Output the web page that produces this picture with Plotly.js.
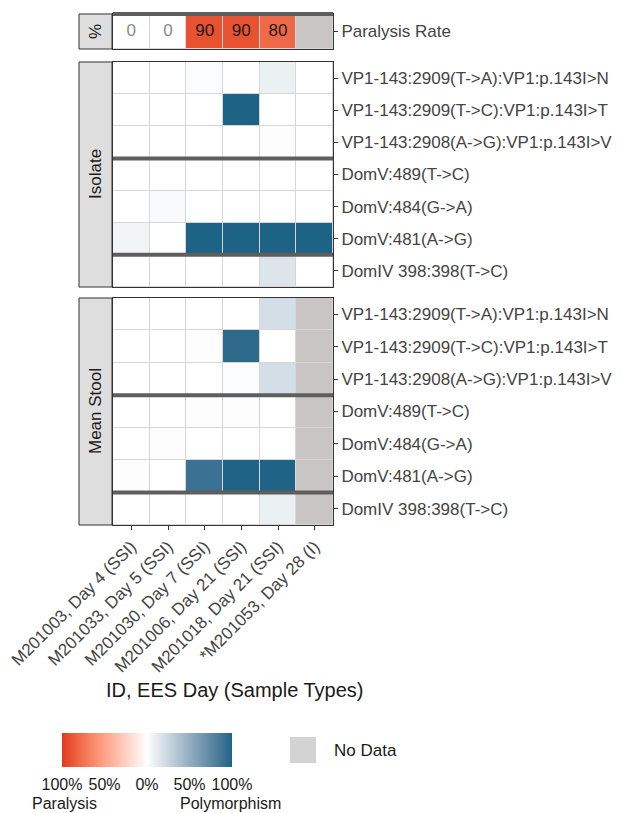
<!DOCTYPE html>
<html>
<head>
<meta charset="utf-8">
<script src="https://cdn.plot.ly/plotly-3.0.1.min.js"></script>
<style>html,body{margin:0;padding:0;background:#fff;}#chart{width:621px;height:813px;}</style>
</head>
<body>
<div id="chart"></div>
<script>
// ---------------- DATA ----------------
var samples = ['M201003, Day 4 (SSI)', 'M201033, Day 5 (SSI)', 'M201030, Day 7 (SSI)',
               'M201006, Day 21 (SSI)', 'M201018, Day 21 (SSI)', '*M201053, Day 28 (I)'];
var variants = ['VP1-143:2909(T->A):VP1:p.143I>N', 'VP1-143:2909(T->C):VP1:p.143I>T',
                'VP1-143:2908(A->G):VP1:p.143I>V', 'DomV:489(T->C)', 'DomV:484(G->A)',
                'DomV:481(A->G)', 'DomIV 398:398(T->C)'];
var variantGroups = ['VP1', 'VP1', 'VP1', 'DomV', 'DomV', 'DomV', 'DomIV'];
var paralysisLabel = ['Paralysis Rate'];
var paralysisRate = [0, 0, 90, 90, 80, null];
var isolateFreq = [
  [0, 0, 0.02, 0, 0.09, 0],
  [0, 0, 0, 1.0, 0, 0],
  [0, 0, 0, 0, 0.01, 0],
  [0, 0, 0, 0, 0, 0],
  [0, 0.03, 0, 0, 0, 0],
  [0.06, 0, 1.0, 1.0, 1.0, 1.0],
  [0, 0, 0, 0, 0.16, 0]
];
var stoolFreq = [
  [0, 0, 0, 0, 0.2, null],
  [0, 0, 0.01, 0.95, 0, null],
  [0, 0, 0, 0.02, 0.2, null],
  [0, 0, 0.01, 0.01, 0, null],
  [0, 0.01, 0, 0, 0, null],
  [0.01, 0, 0.9, 0.99, 0.99, null],
  [0, 0, 0, 0, 0.09, null]
];
var panelNames = ['%', 'Isolate', 'Mean Stool'];
var scaleTickVals = [-1, -0.5, 0, 0.5, 1];
var scaleTickText = ['100%', '50%', '0%', '50%', '100%'];
var scaleEnds = ['Paralysis', 'Polymorphism'];
var naLabel = 'No Data';
var xTitle = 'ID, EES Day (Sample Types)';

// ---------------- COLOURS (Lab interpolation like ggplot gradient2) ----------------
var LOW = '#E0391A', MID = '#FFFFFF', HIGH = '#1C6386', NA_COL = '#C9C5C5';
function hex2rgb(h){h=h.replace('#','');return [parseInt(h.substr(0,2),16),parseInt(h.substr(2,2),16),parseInt(h.substr(4,2),16)];}
function lin(c){c/=255;return c<=0.04045?c/12.92:Math.pow((c+0.055)/1.055,2.4);}
function delin(c){c=c<=0.0031308?12.92*c:1.055*Math.pow(c,1/2.4)-0.055;return Math.max(0,Math.min(255,Math.round(c*255)));}
var Xn=0.95047,Yn=1,Zn=1.08883;
function f(t){return t>0.008856?Math.cbrt(t):7.787*t+16/116;}
function finv(t){return t*t*t>0.008856?t*t*t:(t-16/116)/7.787;}
function rgb2lab(rgb){var r=lin(rgb[0]),g=lin(rgb[1]),b=lin(rgb[2]);
  var X=r*0.4124+g*0.3576+b*0.1805,Y=r*0.2126+g*0.7152+b*0.0722,Z=r*0.0193+g*0.1192+b*0.9505;
  var fx=f(X/Xn),fy=f(Y/Yn),fz=f(Z/Zn);return [116*fy-16,500*(fx-fy),200*(fy-fz)];}
function lab2rgb(lab){var fy=(lab[0]+16)/116,fx=fy+lab[1]/500,fz=fy-lab[2]/200;
  var X=Xn*finv(fx),Y=Yn*finv(fy),Z=Zn*finv(fz);
  var r=X*3.2406-Y*1.5372-Z*0.4986,g=-X*0.9689+Y*1.8758+Z*0.0415,b=X*0.0557-Y*0.2040+Z*1.0570;
  return 'rgb('+delin(r)+','+delin(g)+','+delin(b)+')';}
function mix(a,b,t){var A=rgb2lab(hex2rgb(a)),B=rgb2lab(hex2rgb(b));return lab2rgb([A[0]+(B[0]-A[0])*t,A[1]+(B[1]-A[1])*t,A[2]+(B[2]-A[2])*t]);}
var colorscale=[];
for(var i=0;i<=40;i++){var v=i/40;var c=v<0.5?mix(LOW,MID,v/0.5):mix(MID,HIGH,(v-0.5)/0.5);colorscale.push([v,c]);}

// ---------------- GEOMETRY ----------------
var W=621,H=813;
function px(x){return x/W;}
function py(y){return 1-y/H;}
var plotX=[113,333];
var panels=[[14,49],[62,287],[298,525]];
var strip=[79,112];

function naMask(z){return z.map(function(r){return r.map(function(v){return v===null?1:null;});});}
function paraZ(){return [paralysisRate.map(function(v){return v===null?null:-v/100;})];}

var FF='Liberation Sans, Arial, sans-serif';
var common={type:'heatmap',x:samples,zmin:-1,zmax:1,colorscale:colorscale,xgap:1,ygap:1,hoverinfo:'skip'};
var traces=[
  Object.assign({},common,{z:paraZ(),y:paralysisLabel,xaxis:'x3',yaxis:'y',showscale:false}),
  Object.assign({},common,{z:[paralysisRate.map(function(v){return v===null?1:null;})],y:paralysisLabel,xaxis:'x3',yaxis:'y',showscale:false,colorscale:[[0,NA_COL],[1,NA_COL]],zmin:0,zmax:1}),
  {type:'scatter',mode:'text',x:samples,y:samples.map(function(){return paralysisLabel[0];}),
   text:paralysisRate.map(function(v){return v===null?'':String(v);}),
   textfont:{family:FF,size:17,color:paralysisRate.map(function(v){return v===0?'#8a8a8a':'#1a1a1a';})},
   xaxis:'x3',yaxis:'y',hoverinfo:'skip',showlegend:false},
  Object.assign({},common,{z:isolateFreq,y:variants,xaxis:'x2',yaxis:'y2',showscale:false}),
  Object.assign({},common,{z:stoolFreq,y:variants,xaxis:'x',yaxis:'y3',showscale:true,
    colorbar:{orientation:'h',x:px(147),xanchor:'center',y:py(733),yanchor:'top',xref:'paper',yref:'paper',
      len:170,lenmode:'pixels',thickness:34,thicknessmode:'pixels',outlinewidth:0,xpad:0,ypad:0,
      tickmode:'array',tickvals:scaleTickVals,ticktext:scaleTickText,ticks:'outside',ticklen:4,tickcolor:'rgba(0,0,0,0)',tickwidth:1,
      tickangle:0,ticklabelposition:'outside',tickfont:{family:FF,size:16,color:'#1a1a1a'}}}),
  Object.assign({},common,{z:naMask(stoolFreq),y:variants,xaxis:'x',yaxis:'y3',showscale:false,colorscale:[[0,NA_COL],[1,NA_COL]],zmin:0,zmax:1})
];

var font={family:FF,size:17,color:'#1a1a1a'};
function yax(dom){return {domain:[py(dom[1]),py(dom[0])],type:'category',autorange:'reversed',side:'right',
  ticks:'outside',ticklen:4,tickcolor:'#333',showline:true,mirror:true,linecolor:'#333',linewidth:1,
  showgrid:false,zeroline:false,tickfont:{family:FF,size:17,color:'#444'},fixedrange:true};}
function xax(anchor,showLabels){return {domain:[px(plotX[0]),px(plotX[1])],type:'category',anchor:anchor,
  categoryorder:'array',categoryarray:samples,
  showticklabels:showLabels,ticks:showLabels?'outside':'',ticklen:4,tickcolor:'#333',tickangle:-45,
  showline:true,mirror:true,linecolor:'#333',linewidth:1,showgrid:false,zeroline:false,
  tickfont:{family:FF,size:17,color:'#444'},fixedrange:true};}

var shapes=[],annotations=[];
panels.forEach(function(p,i){
  shapes.push({type:'rect',xref:'paper',yref:'paper',x0:px(strip[0]),x1:px(strip[1]),y0:py(p[1]),y1:py(p[0]),
    fillcolor:'#DEDEDE',line:{color:'#333',width:1},layer:'above'});
  annotations.push({xref:'paper',yref:'paper',x:px((strip[0]+strip[1])/2),y:py((p[0]+p[1])/2),text:panelNames[i],
    textangle:-90,showarrow:false,font:{family:FF,size:17,color:'#1a1a1a'},xanchor:'center',yanchor:'middle'});
});
shapes.push({type:'line',xref:'x3 domain',yref:'y domain',x0:0,x1:1,y0:1,y1:1,line:{color:'#5e5e5e',width:4},layer:'above'});
[['x2','y2'],['x','y3']].forEach(function(ax){
  for(var k=1;k<variantGroups.length;k++){
    if(variantGroups[k]!==variantGroups[k-1]){
      shapes.push({type:'line',xref:ax[0]+' domain',yref:ax[1],x0:0,x1:1,y0:k-0.5,y1:k-0.5,line:{color:'#5e5e5e',width:4},layer:'above'});
    }
  }
});
shapes.push({type:'rect',xref:'paper',yref:'paper',x0:px(290),x1:px(316),y0:py(763),y1:py(737),fillcolor:'#D3D3D3',line:{width:0}});
annotations.push({xref:'paper',yref:'paper',x:px(332),y:py(750),text:naLabel,showarrow:false,xanchor:'left',yanchor:'middle',font:{family:FF,size:17,color:'#1a1a1a'}});
annotations.push({xref:'paper',yref:'paper',x:px(30),y:py(803),text:scaleEnds[0],showarrow:false,xanchor:'left',yanchor:'middle',font:{family:FF,size:16,color:'#1a1a1a'}});
annotations.push({xref:'paper',yref:'paper',x:px(178),y:py(803),text:scaleEnds[1],showarrow:false,xanchor:'left',yanchor:'middle',font:{family:FF,size:16,color:'#1a1a1a'}});
annotations.push({xref:'paper',yref:'paper',x:px(235),y:py(690),text:xTitle,showarrow:false,xanchor:'center',yanchor:'middle',font:{family:FF,size:20,color:'#1a1a1a'}});

var layout={width:W,height:H,margin:{l:0,r:0,t:0,b:0},paper_bgcolor:'#fff',plot_bgcolor:'#D6D6D6',
  showlegend:false,font:font,
  xaxis:xax('y3',true),xaxis2:Object.assign(xax('y2',false),{matches:'x'}),xaxis3:Object.assign(xax('y',false),{matches:'x'}),
  yaxis:yax(panels[0]),yaxis2:yax(panels[1]),yaxis3:yax(panels[2]),
  shapes:shapes,annotations:annotations};
Plotly.newPlot('chart',traces,layout,{displayModeBar:false,staticPlot:true});
</script>
</body>
</html>
